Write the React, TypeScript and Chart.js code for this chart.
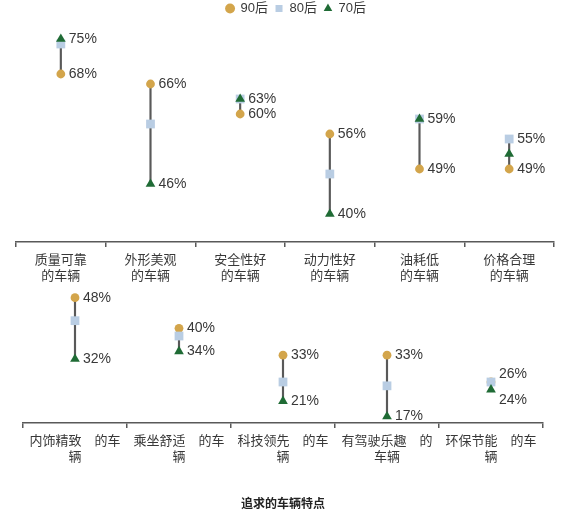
import { useEffect, useRef } from 'react'
import { Chart, registerables } from 'chart.js'

Chart.register(...registerables)

const FONT = '"Liberation Sans", Arial, "Noto Sans CJK SC", sans-serif'
const TEXT = '#383838'
const AXIS = '#595959'

const seriesNames = ['90后', '80后', '70后']
const seriesColors = ['#D3A54B', '#B9CDE3', '#1F6B35']
const seriesShapes = ['circle', 'rect', 'triangle']
const seriesRadius = [4.4, 6.2, 5.6]

const topCategories = [
  ['质量可靠', '的车辆'],
  ['外形美观', '的车辆'],
  ['安全性好', '的车辆'],
  ['动力性好', '的车辆'],
  ['油耗低', '的车辆'],
  ['价格合理', '的车辆'],
]
const top90 = [68, 66, 60, 56, 49, 49]
const top80 = [74, 58, 63, 48, 59, 55]
const top70 = [75, 46, 63, 40, 59, 52]

const bottomCategories = [
  ['内饰精致\u3000的车', '辆'],
  ['乘坐舒适\u3000的车', '辆'],
  ['科技领先\u3000的车', '辆'],
  ['有驾驶乐趣\u3000的', '车辆'],
  ['环保节能\u3000的车', '辆'],
]
const bottom90 = [48, 40, 33, 33, 26]
const bottom80 = [42, 38, 26, 25, 26]
const bottom70 = [32, 34, 21, 17, 24]

const xTitle = '追求的车辆特点'

interface PanelProps {
  categories: string[][]
  series: number[][]
  yMin: number
  yMax: number
  top: number
  height: number
  padLeft: number
  padRight: number
  padTop: number
  axisHeight: number
  legend?: boolean
  rightGap?: number
  title?: string
}

function Panel(props: PanelProps) {
  const canvasRef = useRef<HTMLCanvasElement>(null)

  useEffect(() => {
    if (!canvasRef.current) return
    const { categories, series } = props

    // min/max per category -> connecting line
    const ranges = categories.map((_, i) => {
      const vals = series.map((s) => s[i])
      return [Math.min(...vals), Math.max(...vals)]
    })

    const valueLabels = {
      id: 'valueLabels',
      afterDatasetsDraw(chart: any) {
        const { ctx, scales } = chart
        ctx.save()
        ctx.font = `14px ${FONT}`
        ctx.fillStyle = TEXT
        ctx.textBaseline = 'middle'
        ctx.textAlign = 'left'
        ranges.forEach(([lo, hi], i) => {
          const x = scales.x.getPixelForValue(i) + 8
          let yHi = scales.y.getPixelForValue(hi)
          let yLo = scales.y.getPixelForValue(lo)
          if (yLo - yHi < 12) {
            const mid = (yHi + yLo) / 2
            yHi = mid - 12
            yLo = mid + 14
          }
          ctx.fillText(hi + '%', x, yHi)
          if (lo !== hi) ctx.fillText(lo + '%', x, yLo)
        })
        ctx.restore()
      },
    }

    const pointSets = series.map((data, k) => ({
      type: 'line' as const,
      label: seriesNames[k],
      data,
      showLine: false,
      pointStyle: seriesShapes[k],
      pointRadius: seriesRadius[k],
      pointBackgroundColor: seriesColors[k],
      backgroundColor: seriesColors[k],
      borderColor: seriesColors[k],
      pointBorderWidth: 0,
      borderWidth: 0,
      order: 3 - k,
      clip: false as const,
    }))

    const chart = new Chart(canvasRef.current, {
      type: 'bar',
      data: {
        labels: categories,
        datasets: [
          ...pointSets,
          {
            type: 'bar' as const,
            label: '',
            data: ranges as any,
            backgroundColor: AXIS,
            borderWidth: 0,
            barThickness: 1.5,
            order: 4,
          },
        ] as any,
      },
      options: {
        responsive: false,
        animation: false,
        events: [],
        layout: {
          padding: { left: props.padLeft, right: props.padRight, top: props.padTop, bottom: 0 },
        },
        plugins: {
          tooltip: { enabled: false },
          legend: {
            display: !!props.legend,
            position: 'top',
            labels: {
              usePointStyle: true,
              boxWidth: 8,
              boxHeight: 7,
              padding: 7,
              color: TEXT,
              font: { family: FONT, size: 13 },
              filter: (item: any) => item.datasetIndex < 3,
              sort: (a: any, b: any) => a.datasetIndex - b.datasetIndex,
            },
          },
        },
        scales: {
          x: {
            type: 'category',
            offset: true,
            afterFit: (scale: any) => {
              scale.height = props.axisHeight
            },
            grid: {
              offset: true,
              drawOnChartArea: false,
              drawTicks: true,
              tickLength: 5,
              color: AXIS,
              lineWidth: 1.5,
            },
            border: { display: true, color: AXIS, width: 1.5 },
            ticks: {
              autoSkip: false,
              maxRotation: 0,
              padding: 5,
              color: TEXT,
              font: { family: FONT, size: 13, lineHeight: 1.25 },
            },
            title: {
              display: !!props.title,
              text: props.title || '',
              color: '#222222',
              font: { family: FONT, size: 12, weight: 'bold' },
              padding: { top: 0, bottom: 4 },
            },
          },
          y: {
            min: props.yMin,
            max: props.yMax,
            display: !!props.rightGap,
            position: 'right',
            afterFit: (scale: any) => {
              scale.width = props.rightGap || 0
            },
            grid: { display: false },
            border: { display: false },
            ticks: { display: false },
          },
        },
      },
      plugins: [valueLabels],
    })

    return () => {
      chart.destroy()
    }
  }, [])

  return (
    <canvas
      ref={canvasRef}
      width={584}
      height={props.height}
      style={{ position: 'absolute', left: 0, top: props.top, width: 584, height: props.height }}
    />
  )
}

export default function App() {
  return (
    <div
      style={{
        position: 'fixed',
        left: 0,
        top: 0,
        width: 584,
        height: 516,
        background: '#ffffff',
        overflow: 'hidden',
      }}
    >
      <Panel
        categories={topCategories}
        series={[top90, top80, top70]}
        yMin={34.4}
        yMax={77.8}
        top={-5}
        height={297}
        padLeft={16}
        padRight={8}
        rightGap={22}
        padTop={0}
        axisHeight={50}
        legend
      />
      <Panel
        categories={bottomCategories}
        series={[bottom90, bottom80, bottom70]}
        yMin={15.3}
        yMax={51}
        top={280}
        height={236}
        padLeft={23}
        padRight={41}
        padTop={5}
        axisHeight={93}
        title={xTitle}
      />
    </div>
  )
}
